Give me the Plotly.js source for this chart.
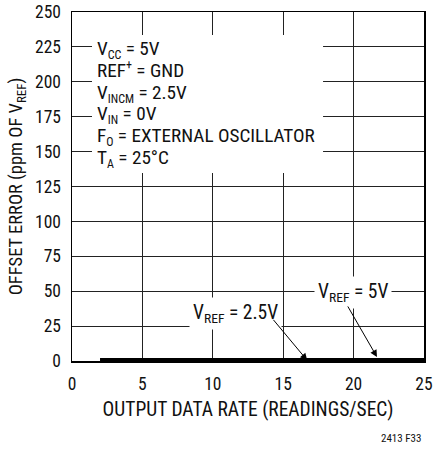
<!DOCTYPE html>
<html>
<head>
<meta charset="utf-8">
<script src="https://cdn.plot.ly/plotly-3.0.1.min.js"></script>
<style>html,body{margin:0;padding:0;background:#fff}#chart{width:436px;height:449px}</style>
</head>
<body>
<div id="chart"></div>
<script>
// Data (offset error stays essentially at zero)
const rate = [2, 5, 10, 15, 20, 25];           // readings/sec
const errVref25 = [0.8, 0.8, 0.8, 0.8, 0.8, 0.8]; // VREF = 2.5V, ppm of VREF
const errVref5 = [0.8, 0.8, 0.8, 0.8, 0.8, 0.8];  // VREF = 5V, ppm of VREF
const xTicks = [0, 5, 10, 15, 20, 25];
const yTicks = [0, 25, 50, 75, 100, 125, 150, 175, 200, 225, 250];
const condLines = [
  ['V', 'CC', ' = 5V'],
  ['REF', '+', ' = GND', 'sup'],
  ['V', 'INCM', ' = 2.5V'],
  ['V', 'IN', ' = 0V'],
  ['F', 'O', ' = EXTERNAL OSCILLATOR'],
  ['T', 'A', ' = 25°C']
];

const FONT = '"Liberation Sans Narrow", "Roboto Condensed", "Liberation Sans", Arial, sans-serif';
const FS = 19.5;
const TFS = 17.5;
const TXT = '#111';

const traces = [
  {x: rate, y: errVref25, mode: 'lines', line: {color: '#000', width: 4}, name: 'VREF = 2.5V', cliponaxis: false},
  {x: rate, y: errVref5, mode: 'lines', line: {color: '#000', width: 4}, name: 'VREF = 5V', cliponaxis: false}
];

function condLine(p) {
  const tag = p[3] || 'sub';
  return '<span style="font-size:19.2px">' + p[0] + '<' + tag + '><span style="font-size:12px">' + p[1] +
    '</span></' + tag + '>' + p[2] + '</span>';
}

const annotations = [];
// conditions block: one text, base size sets the line pitch, spans set glyph size
annotations.push({
  xref: 'x', yref: 'y', x: 1.62, y: 184.4,
  xanchor: 'left', yanchor: 'middle', align: 'left', showarrow: false,
  text: condLines.map(condLine).join('<br>'),
  font: {family: FONT, size: 16.77, color: TXT}
});
// labels
annotations.push({xref: 'x', yref: 'y', x: 11.58, y: 34.0, text: 'V<sub>REF</sub> = 2.5V',
  showarrow: false, bgcolor: '#fff', borderpad: 3, font: {family: FONT, size: FS, color: TXT}});
annotations.push({xref: 'x', yref: 'y', x: 19.96, y: 49.0, text: 'V<sub>REF</sub> = 5V',
  showarrow: false, bgcolor: '#fff', borderpad: 3, font: {family: FONT, size: FS, color: TXT}});
// arrows
annotations.push({xref: 'x', yref: 'y', x: 16.7, y: 0.5, text: '', showarrow: true,
  axref: 'pixel', ayref: 'pixel', ax: -35, ay: -42, arrowhead: 2, arrowsize: 1.4, arrowwidth: 1, arrowcolor: '#000', standoff: 0});
annotations.push({xref: 'x', yref: 'y', x: 21.66, y: 2.9, text: '', showarrow: true,
  axref: 'pixel', ayref: 'pixel', ax: -30, ay: -52, arrowhead: 2, arrowsize: 1.4, arrowwidth: 1, arrowcolor: '#000', standoff: 0});
// figure code
annotations.push({xref: 'paper', yref: 'paper', x: 1.0, y: 0, yshift: -77, xshift: -1,
  xanchor: 'right', yanchor: 'middle', text: '2413 F33', showarrow: false,
  font: {family: FONT, size: 11, color: TXT}});

const layout = {
  width: 436, height: 449,
  margin: {l: 72, r: 12, t: 12, b: 88},
  paper_bgcolor: '#fff', plot_bgcolor: '#fff',
  showlegend: false,
  font: {family: FONT, size: FS, color: TXT},
  xaxis: {
    range: [0, 25], tickvals: xTicks, ticktext: xTicks.map(String),
    showgrid: true, gridcolor: '#222', gridwidth: 1, zeroline: false,
    showline: true, mirror: true, linecolor: '#000', linewidth: 1.5,
    ticks: '', ticklabelstandoff: 6,
    tickfont: {family: FONT, size: TFS, color: TXT},
    title: {text: 'OUTPUT DATA RATE (READINGS/SEC)', font: {family: FONT, size: FS, color: TXT}, standoff: 10}
  },
  yaxis: {
    range: [0, 250], tickvals: yTicks, ticktext: yTicks.map(String),
    showgrid: true, gridcolor: '#222', gridwidth: 1, zeroline: false,
    showline: true, mirror: true, linecolor: '#000', linewidth: 1.5,
    ticks: '', ticklabelstandoff: 6,
    tickfont: {family: FONT, size: TFS, color: TXT},
    title: {text: 'OFFSET ERROR (ppm OF V<sub>REF</sub>)', font: {family: FONT, size: FS - 1, color: TXT}, standoff: 7}
  },
  shapes: [{type: 'rect', xref: 'x', yref: 'y', x0: 1.42, x1: 17.83, y0: 134.7, y1: 233.5,
    fillcolor: '#fff', line: {width: 0}, layer: 'above'}],
  annotations: annotations
};

Plotly.newPlot('chart', traces, layout, {displayModeBar: false, staticPlot: true});
</script>
</body>
</html>
